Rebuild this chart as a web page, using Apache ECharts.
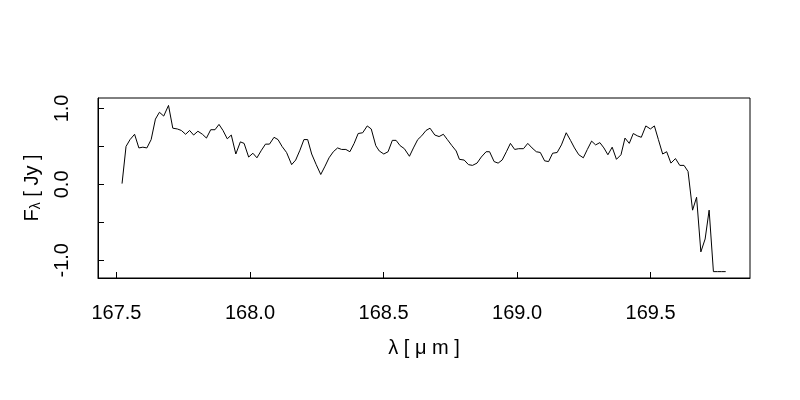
<!DOCTYPE html>
<html>
<head>
<meta charset="utf-8">
<script src="https://cdn.jsdelivr.net/npm/echarts@6/dist/echarts.min.js"></script>
<style>
html,body{margin:0;padding:0;background:#fff;}
#chart{width:800px;height:400px;}
</style>
</head>
<body>
<div id="chart"></div>
<script>
// wavelength in micrometres
const wavelength = [
167.521,167.536,167.551,167.568,167.584,167.599,167.614,167.630,167.646,167.661,
167.677,167.695,167.711,167.728,167.743,167.759,167.774,167.789,167.805,167.822,
167.837,167.853,167.869,167.884,167.899,167.915,167.930,167.947,167.964,167.978,
167.995,168.011,168.026,168.043,168.058,168.073,168.090,168.105,168.120,168.137,
168.156,168.171,168.187,168.202,168.216,168.231,168.248,168.265,168.281,168.296,
168.312,168.328,168.343,168.359,168.374,168.390,168.405,168.422,168.439,168.454,
168.471,168.484,168.501,168.517,168.533,168.547,168.562,168.578,168.597,168.612,
168.628,168.643,168.659,168.674,168.692,168.708,168.724,168.739,168.756,168.772,
168.784,168.802,168.818,168.833,168.850,168.866,168.884,168.897,168.914,168.929,
168.944,168.960,168.975,168.991,169.006,169.024,169.040,169.056,169.072,169.087,
169.103,169.118,169.133,169.150,169.166,169.184,169.200,169.215,169.231,169.248,
169.263,169.279,169.294,169.310,169.325,169.340,169.356,169.372,169.389,169.404,
169.420,169.435,169.450,169.465,169.482,169.499,169.514,169.529,169.545,169.560,
169.576,169.593,169.609,169.625,169.640,169.657,169.672,169.688,169.704,169.719,
169.735,169.750,169.766,169.781
];
// flux density in Jy
const flux = [
0.01,0.50,0.59,0.66,0.48,0.49,0.48,0.59,0.86,0.95,
0.90,1.04,0.74,0.73,0.71,0.66,0.71,0.65,0.70,0.66,
0.61,0.72,0.72,0.79,0.71,0.60,0.65,0.40,0.56,0.54,
0.36,0.41,0.35,0.45,0.53,0.53,0.62,0.59,0.50,0.42,
0.26,0.32,0.45,0.59,0.59,0.40,0.26,0.13,0.24,0.35,
0.43,0.48,0.46,0.46,0.43,0.54,0.67,0.68,0.77,0.73,
0.51,0.44,0.40,0.43,0.58,0.58,0.51,0.47,0.37,0.48,
0.59,0.64,0.71,0.74,0.65,0.63,0.66,0.59,0.51,0.44,
0.33,0.32,0.26,0.25,0.28,0.36,0.43,0.43,0.30,0.28,
0.32,0.43,0.54,0.46,0.47,0.47,0.54,0.48,0.43,0.42,
0.31,0.30,0.41,0.42,0.52,0.68,0.58,0.48,0.39,0.35,
0.46,0.57,0.52,0.55,0.48,0.39,0.49,0.33,0.39,0.61,
0.54,0.67,0.64,0.62,0.77,0.73,0.77,0.59,0.40,0.43,
0.28,0.34,0.25,0.25,0.17,-0.34,-0.17,-0.89,-0.72,-0.34,
-1.15,-1.15,-1.15,-1.15
];
const xTicks = [167.5, 168.0, 168.5, 169.0, 169.5];
const yTicks = [-1.0, -0.5, 0.0, 0.5, 1.0];
const yLabels = [-1.0, 0.0, 1.0];
const xRange = [167.431, 169.872];
const yRange = [-1.234, 1.138];

const FONT = 'Liberation Sans, Arial, sans-serif';
const chart = echarts.init(document.getElementById('chart'), null, {renderer: 'canvas'});
chart.setOption({
  animation: false,
  backgroundColor: '#fff',
  grid: {left: 98, right: 50, top: 98, bottom: 122, containLabel: false,
         show: true, borderColor: '#000', borderWidth: 1, backgroundColor: 'transparent'},
  xAxis: {
    type: 'value', min: xRange[0], max: xRange[1],
    name: 'λ [ μ m ]', nameLocation: 'middle', nameGap: 60,
    nameTextStyle: {fontFamily: FONT, fontSize: 20, color: '#000'},
    axisLine: {show: true, onZero: false, lineStyle: {color: '#000', width: 1}},
    axisTick: {show: true, inside: true, length: 6, customValues: xTicks, lineStyle: {color: '#000'}},
    axisLabel: {show: true, customValues: xTicks, margin: 25, fontFamily: FONT, fontSize: 20, color: '#000',
                formatter: v => v.toFixed(1)},
    splitLine: {show: false}
  },
  yAxis: {
    type: 'value', min: yRange[0], max: yRange[1],
    name: '{a|F}{b|λ}{a| [ Jy ]}', nameLocation: 'middle', nameGap: 55, nameRotate: 90,
    nameTextStyle: {fontFamily: FONT, color: '#000',
      rich: {a: {fontFamily: FONT, fontSize: 20, color: '#000'},
             b: {fontFamily: FONT, fontSize: 14, color: '#000', verticalAlign: 'bottom', padding: [8, 0, 0, 0]}}},
    axisLine: {show: true, onZero: false, lineStyle: {color: '#000', width: 1}},
    axisTick: {show: true, inside: true, length: 6, customValues: yTicks, lineStyle: {color: '#000'}},
    axisLabel: {show: true, customValues: yLabels, rotate: 90, margin: 26, fontFamily: FONT, fontSize: 20, color: '#000',
                formatter: v => v.toFixed(1)},
    splitLine: {show: false}
  },
  series: [{
    type: 'line', showSymbol: false, symbol: 'none',
    data: wavelength.map((w, i) => [w, flux[i]]),
    lineStyle: {color: '#000', width: 1},
    clip: true
  }]
});
</script>
</body>
</html>
